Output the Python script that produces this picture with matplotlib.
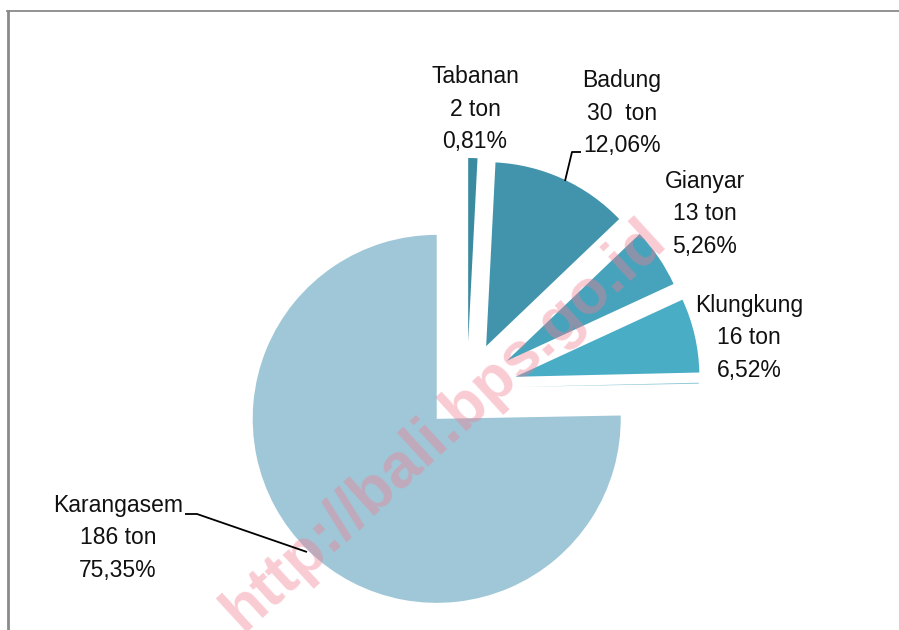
import matplotlib
matplotlib.use('Agg')
import matplotlib.pyplot as plt
from matplotlib.lines import Line2D

plt.rcParams['font.family'] = ['Liberation Sans', 'DejaVu Sans']

# data (clockwise from 12 o'clock)
regions = ['Tabanan', 'Badung', 'Gianyar', 'Klungkung', '', 'Karangasem']
tons = ['2 ton', '30  ton', '13 ton', '16 ton', '', '186 ton']
pct = [0.81, 12.06, 5.26, 6.52, 0.08, 75.35]
colors = ['#3a8aa0', '#4294ad', '#47a3bb', '#4aadc6', '#86c3d5', '#9fc7d7']
explode = [0.25, 0.25, 0.26, 0.27, 0.26, 0.235]

W, H = 899, 630
R = 184.0          # pie radius in px
cx, cy = 467, 388  # pie centre in px (from top-left)

fig = plt.figure(figsize=(W / 100, H / 100), dpi=100)
ax = fig.add_axes([0, 0, 1, 1])
ax.pie(pct, colors=colors, explode=explode, startangle=90, counterclock=False,
       wedgeprops=dict(linewidth=0))
ax.set_xlim(-cx / R, (W - cx) / R)
ax.set_ylim(-(H - cy) / R, cy / R)
ax.axis('off')


def px(x, y):
    return (x - cx) / R, (cy - y) / R


# watermark
wx, wy = px(444, 425)
ax.text(wx, wy, 'http://bali.bps.go.id', rotation=42.5, ha='center', va='center',
        fontsize=45, fontweight='bold', color='#f27d92', alpha=0.4,
        rotation_mode='anchor', zorder=3)

# labels
lab_pos = {'Tabanan': (475, 109), 'Badung': (622, 113), 'Gianyar': (705, 214),
           'Klungkung': (749, 338), 'Karangasem': (118, 538)}
for i, name in enumerate(regions):
    if not name:
        continue
    txt = f"{name}\n{tons[i]}\n{pct[i]:.2f}%".replace('.', ',')
    x, y = px(*lab_pos[name])
    ax.text(x, y, txt, ha='center', va='center', fontsize=16.5, linespacing=1.55,
            color='#111111', zorder=4)

# leader lines
for pts in ([(565, 181), (572, 152), (581, 152)],
            [(307, 552), (197, 514), (185, 514)]):
    xs, ys = zip(*[px(*p) for p in pts])
    ax.plot(xs, ys, color='black', lw=1.3, solid_capstyle='butt', zorder=4)

# frame (left and top only)
fig.add_artist(Line2D([7.5 / W, 7.5 / W], [0, 1 - 11 / H], transform=fig.transFigure,
                      color='#8a8a8a', lw=2))
fig.add_artist(Line2D([7 / W, 1], [1 - 11 / H, 1 - 11 / H], transform=fig.transFigure,
                      color='#8a8a8a', lw=1.3))

fig.savefig('out.png', dpi=100)
